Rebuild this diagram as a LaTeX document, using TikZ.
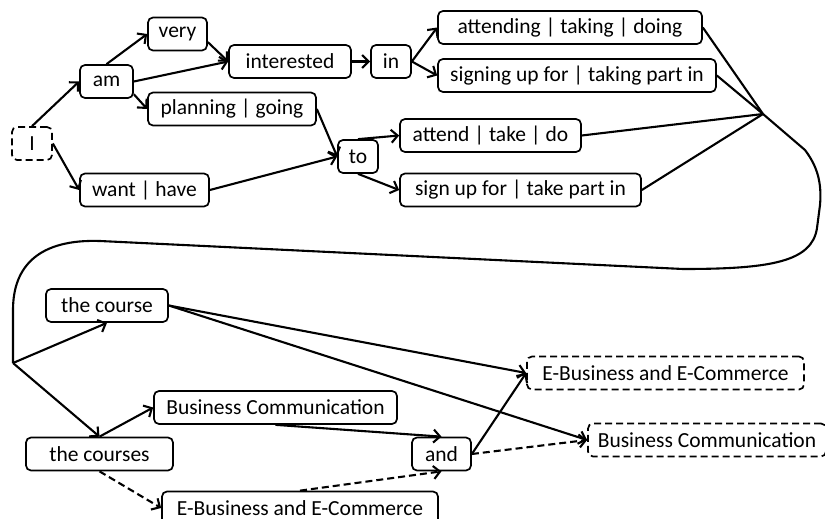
\documentclass[tikz,border=0pt]{standalone}
\usepackage{fontspec}
\setmainfont{Carlito}
\usetikzlibrary{arrows.meta}
\begin{document}
\begin{tikzpicture}[x=1pt,y=-1pt,
  word/.style={draw,line width=1.7pt,rounded corners=5pt,minimum height=33pt,
    inner sep=0pt,font=\fontsize{21.5}{25}\selectfont},
  opt/.style={word,dash pattern=on 7pt off 4pt},
  link/.style={line width=2.1pt},
  arr/.style={link,-{Straight Barb[length=6.5pt,width=13pt,line width=2.1pt]}},
  darr/.style={arr,dash pattern=on 7pt off 4pt},
  loop/.style={line width=2.1pt,line join=round}]
\useasboundingbox (0,0) rectangle (825,519);

% first sentence part
\node[opt,minimum width=40pt]  (I)      at (32,143.5)  {I};
\node[word,minimum width=53pt] (am)     at (106.5,81.5) {am};
\node[word,minimum width=59pt] (very)   at (177.5,34)  {very};
\node[word,minimum width=122pt](interested) at (290,61.5) {interested};
\node[word,minimum width=40pt] (in)     at (391,61.5)  {in};
\node[word,minimum width=264pt](attending) at (570,27.5) {attending | taking | doing};
\node[word,minimum width=278pt](signing)   at (577,75.5) {signing up for | taking part in};
\node[word,minimum width=168pt](planning)  at (232,109)  {planning | going};
\node[word,minimum width=40pt] (to)     at (358,156.5) {to};
\node[word,minimum width=181pt](attend) at (490.5,135.5) {attend | take | do};
\node[word,minimum width=241pt](signup) at (520.5,190) {sign up for | take part in};
\node[word,minimum width=129pt](want)   at (144.5,190) {want | have};

% second sentence part
\node[word,minimum width=122pt](course)  at (107,305.5) {the course};
\node[word,minimum width=147pt](courses) at (99.5,454) {the courses};
\node[word,minimum width=243pt](bcl)     at (275.5,407.5) {Business Communication};
\node[word,minimum width=276pt](ebl)     at (300,508) {E-Business and E-Commerce};
\node[word,minimum width=59pt] (and)     at (441.5,454) {and};
\node[opt,minimum width=277pt] (ebr)     at (665.5,373) {E-Business and E-Commerce};
\node[opt,minimum width=238pt] (bcr)     at (707,440) {Business Communication};

\coordinate (J) at (763,114);
\coordinate (L) at (13,363);

% connectors, upper part
\draw[arr] (I.north) -- (am.west);
\draw[arr] (I.east) -- (want.west);
\draw[arr] (am.north) -- (very.west);
\draw[arr] (am.east) -- (interested.west);
\draw[arr] (am.-25) -- (planning.west);
\draw[arr] (very.-15) -- (interested.west);
\draw[arr] (interested.east) -- (in.west);
\draw[arr] (in.east) -- (attending.west);
\draw[arr] (in.east) -- (signing.west);
\draw[arr] (planning.east) -- (to.west);
\draw[arr] (want.east) -- (to.west);
\draw[arr] (to.north) -- (attend.west);
\draw[arr] (to.south) -- (signup.west);
\draw[link] (attending.east) -- (J);
\draw[link] (signing.east) -- (J);
\draw[link] (attend.east) -- (J);
\draw[link] (signup.east) -- (J);

% joining curve
\draw[loop] (J) -- (805,150) .. controls (817,166) and (822,182) .. (820,205)
  -- (817,228) .. controls (812,262) and (770,269) .. (683,269)
  -- (100,241) .. controls (40,239) and (13,265) .. (13,310) -- (L);

% connectors, lower part
\draw[arr] (L) -- (course.south);
\draw[arr] (L) -- (courses.north);
\draw[arr] (courses.north) -- (bcl.west);
\draw[darr] (courses.south) -- (ebl.west);
\draw[arr] (bcl.south) -- (and.north);
\draw[darr] (ebl.north) -- (and.south);
\draw[arr] (and.east) -- (ebr.west);
\draw[darr] (and.east) -- (bcr.west);
\draw[arr] (course.east) -- (ebr.west);
\draw[arr] (course.east) -- (bcr.west);
\end{tikzpicture}
\end{document}
